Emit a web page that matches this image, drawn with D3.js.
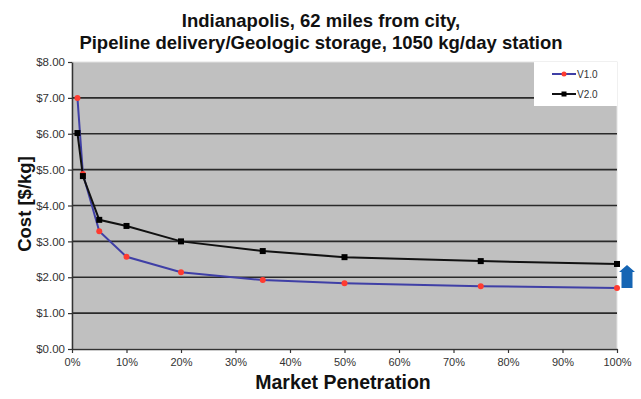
<!DOCTYPE html>
<html>
<head>
<meta charset="utf-8">
<script src="https://cdn.jsdelivr.net/npm/d3@7"></script>
<style>
  html, body { margin: 0; padding: 0; background: #fff; }
  svg { display: block; }
</style>
</head>
<body>
<svg id="chart" width="641" height="399"></svg>
<script>
// Market penetration (fraction of market) for each scenario point
const penetration = [0.01, 0.02, 0.05, 0.10, 0.20, 0.35, 0.50, 0.75, 1.00];
// Delivered hydrogen cost, $/kg
const costV1 = [7.00, 4.88, 3.28, 2.57, 2.14, 1.92, 1.83, 1.75, 1.70];
const costV2 = [6.02, 4.82, 3.60, 3.43, 3.00, 2.73, 2.56, 2.45, 2.37];
const seriesNames = ["V1.0", "V2.0"];
const yTicks = [0, 1, 2, 3, 4, 5, 6, 7, 8];
const xTicks = [0, 0.1, 0.2, 0.3, 0.4, 0.5, 0.6, 0.7, 0.8, 0.9, 1.0];
const titleLines = [
  "Indianapolis, 62 miles from city,",
  "Pipeline delivery/Geologic storage, 1050 kg/day station"
];

const svg = d3.select("#chart");
const m = { left: 72, right: 617, top: 62, bottom: 349 };

const x = d3.scaleLinear().domain([0, 1]).range([m.left, m.right]);
const y = d3.scaleLinear().domain([0, 8]).range([m.bottom, m.top]);

const font = "'Liberation Sans', Arial, sans-serif";

// plot background
svg.append("rect")
  .attr("x", m.left).attr("y", m.top)
  .attr("width", m.right - m.left).attr("height", m.bottom - m.top)
  .attr("fill", "#c0c0c0")
  .attr("stroke", "#e2e2e2").attr("stroke-width", 1);

// horizontal gridlines
svg.append("g").selectAll("line")
  .data(yTicks.filter(d => d > 0 && d < 8))
  .join("line")
  .attr("x1", m.left).attr("x2", m.right)
  .attr("y1", d => y(d)).attr("y2", d => y(d))
  .attr("stroke", "#2a2a2a").attr("stroke-width", 1.6);

// y axis
const yAxis = d3.axisLeft(y).tickValues(yTicks)
  .tickFormat(d => "$" + d3.format(".2f")(d))
  .tickSize(4).tickSizeOuter(0).tickPadding(3);
const gy = svg.append("g").attr("transform", `translate(${m.left},0)`).call(yAxis);
gy.select(".domain").attr("stroke", "#333").attr("stroke-width", 1.5);
gy.selectAll(".tick line").attr("stroke", "#333").attr("stroke-width", 1.2);
gy.selectAll("text").attr("font-family", font).attr("font-size", 11.5).attr("fill", "#333");

// x axis
const xAxis = d3.axisBottom(x).tickValues(xTicks)
  .tickFormat(d3.format(".0%"))
  .tickSize(4).tickSizeOuter(0).tickPadding(5);
const gx = svg.append("g").attr("transform", `translate(0,${m.bottom})`).call(xAxis);
gx.select(".domain").attr("stroke", "#333").attr("stroke-width", 1.5);
gx.selectAll(".tick line").attr("stroke", "#333").attr("stroke-width", 1.2);
gx.selectAll("text").attr("font-family", font).attr("font-size", 11).attr("fill", "#333");

// series
const line = d3.line().x(d => x(d[0])).y(d => y(d[1]));
const v1 = penetration.map((p, i) => [p, costV1[i]]);
const v2 = penetration.map((p, i) => [p, costV2[i]]);

svg.append("path").datum(v1).attr("d", line)
  .attr("fill", "none").attr("stroke", "#3f3fa6").attr("stroke-width", 2);
svg.append("path").datum(v2).attr("d", line)
  .attr("fill", "none").attr("stroke", "#111").attr("stroke-width", 2);

svg.append("g").selectAll("circle").data(v1).join("circle")
  .attr("cx", d => x(d[0])).attr("cy", d => y(d[1])).attr("r", 3)
  .attr("fill", "#ff3b30");
svg.append("g").selectAll("rect").data(v2).join("rect")
  .attr("x", d => x(d[0]) - 3).attr("y", d => y(d[1]) - 3)
  .attr("width", 6).attr("height", 6).attr("fill", "#000");

// legend
const lg = svg.append("g");
lg.append("rect").attr("x", 534).attr("y", 62).attr("width", 83).attr("height", 44)
  .attr("fill", "#fff");
const legendColors = [["#3f3fa6", "#ff3b30", "circle"], ["#111", "#000", "rect"]];
seriesNames.forEach((name, i) => {
  const ly = 74 + i * 20;
  lg.append("line").attr("x1", 552).attr("x2", 576).attr("y1", ly).attr("y2", ly)
    .attr("stroke", legendColors[i][0]).attr("stroke-width", 2);
  if (legendColors[i][2] === "circle") {
    lg.append("circle").attr("cx", 564).attr("cy", ly).attr("r", 2.5).attr("fill", legendColors[i][1]);
  } else {
    lg.append("rect").attr("x", 561.5).attr("y", ly - 2.5).attr("width", 5).attr("height", 5).attr("fill", legendColors[i][1]);
  }
  lg.append("text").attr("x", 577).attr("y", ly + 3.5).text(name)
    .attr("font-family", font).attr("font-size", 10).attr("fill", "#333");
});

// title
svg.append("g").selectAll("text").data(titleLines).join("text")
  .attr("x", 321).attr("y", (d, i) => 27 + i * 22)
  .attr("text-anchor", "middle")
  .attr("font-family", font).attr("font-weight", "bold").attr("font-size", 18.5)
  .attr("fill", "#111").text(d => d);

// axis titles
svg.append("text").attr("x", 343).attr("y", 389).attr("text-anchor", "middle")
  .attr("font-family", font).attr("font-weight", "bold").attr("font-size", 19.5)
  .attr("fill", "#111").text("Market Penetration");
svg.append("text").attr("transform", "translate(31,204) rotate(-90)")
  .attr("text-anchor", "middle")
  .attr("font-family", font).attr("font-weight", "bold").attr("font-size", 18.5)
  .attr("fill", "#111").text("Cost [$/kg]");

// upward arrow beside the 100% point
const ax = x(1) + 10;
svg.append("path")
  .attr("d", `M${ax - 8},272 L${ax},265 L${ax + 8},272 L${ax + 5.5},272 L${ax + 5.5},288 L${ax - 5.5},288 L${ax - 5.5},272 Z`)
  .attr("fill", "#1565b4");
</script>
</body>
</html>
